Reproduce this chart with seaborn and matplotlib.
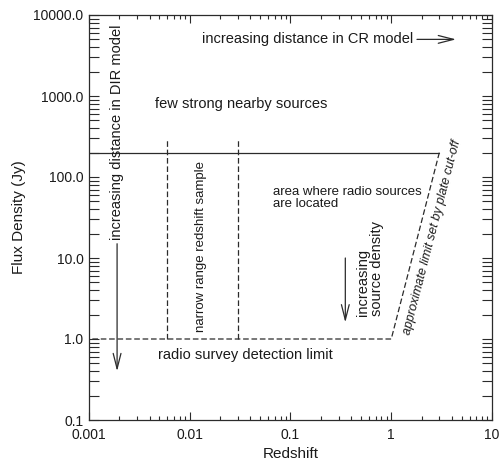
import math
import matplotlib
matplotlib.use("Agg")
import matplotlib.pyplot as plt
from matplotlib.ticker import LogLocator, FormatStrFormatter, FuncFormatter, NullFormatter
import numpy as np
import pandas as pd
import seaborn as sns

# Boundaries of the flux-density / redshift region
upper_limit_z = [0.001, 3.0]
upper_limit_flux = [200.0, 200.0]

cutoff_z = [3.0, 1.0, 0.001]
cutoff_flux = [200.0, 1.0, 1.0]

sample_z = [0.006, 0.03]
sample_flux = [1.0, 300.0]

x_ticks = [0.001, 0.01, 0.1, 1, 10]
y_ticks = [0.1, 1.0, 10.0, 100.0, 1000.0, 10000.0]

sns.set_theme(style="ticks")
plt.rcParams["font.family"] = ["Liberation Sans", "DejaVu Sans"]

ink = "#2b2b2b"
lw = 0.9
dash = (0, (4.5, 2.2))

fig = plt.figure(figsize=(5.02, 4.66), dpi=100)
ax = fig.add_axes([89 / 502, 1 - 420 / 466, 403 / 502, 405 / 466])
ax.set_xscale("log")
ax.set_yscale("log")
ax.set_xlim(0.001, 10)
ax.set_ylim(0.1, 10000)

line_kw = dict(ax=ax, color=ink, lw=lw, sort=False, estimator=None,
               errorbar=None)

solid = pd.DataFrame({"z": upper_limit_z, "flux": upper_limit_flux})
sns.lineplot(data=solid, x="z", y="flux", **line_kw)

cut = pd.DataFrame({"z": cutoff_z, "flux": cutoff_flux})
sns.lineplot(data=cut, x="z", y="flux", linestyle=dash, **line_kw)

for z in sample_z:
    seg = pd.DataFrame({"z": [z, z], "flux": sample_flux})
    sns.lineplot(data=seg, x="z", y="flux", linestyle=dash, **line_kw)

# Arrows
arrow_kw = dict(arrowstyle="->,head_length=1.1,head_width=0.28", color=ink,
                lw=lw, mutation_scale=10, shrinkA=0, shrinkB=0)
ax.annotate("", xy=(0.0019, 0.4), xytext=(0.0019, 15), arrowprops=arrow_kw)
ax.annotate("", xy=(4.4, 5000), xytext=(1.8, 5000), arrowprops=arrow_kw)
ax.annotate("", xy=(0.35, 1.6), xytext=(0.35, 10), arrowprops=arrow_kw)

txt = "#1a1a1a"
ax.text(1.65, 5000, "increasing distance in CR model", ha="right", va="center",
        fontsize=10.5, color=txt)
ax.text(0.0045, 800, "few strong nearby sources", ha="left", va="center",
        fontsize=10.5, color=txt)
ax.text(0.0019, 354, "increasing distance in DIR model", rotation=90,
        ha="center", va="center", fontsize=10.5, color=txt)
ax.text(0.0129, 14, "narrow range redshift sample", rotation=90,
        ha="center", va="center", fontsize=9.5, color=txt)
ax.text(0.067, 55, "area where radio sources\nare located", ha="left",
        va="center", multialignment="left", linespacing=1.1, fontsize=9.5,
        color=txt)
ax.text(0.62, 1.95, "increasing\nsource density", rotation=90, ha="center",
        va="bottom", multialignment="left", linespacing=1.0, fontsize=10.5,
        color=txt)
ax.text(0.036, 0.63, "radio survey detection limit", ha="center", va="center",
        fontsize=10.5, color=txt)

# Italic label running along the plate cut-off line
p1 = ax.transData.transform((cutoff_z[1], cutoff_flux[1]))
p2 = ax.transData.transform((cutoff_z[0], cutoff_flux[0]))
angle = math.degrees(math.atan2(p2[1] - p1[1], p2[0] - p1[0]))
ax.text(2.53, 18, "approximate limit set by plate cut-off", rotation=angle,
        rotation_mode="anchor", ha="center", va="center", fontsize=9,
        style="italic", color=txt)

# Axes styling
for s in ax.spines.values():
    s.set_color(ink)
    s.set_linewidth(0.9)

ax.xaxis.set_minor_locator(LogLocator(base=10, subs=np.arange(2, 10), numticks=20))
ax.yaxis.set_minor_locator(LogLocator(base=10, subs=np.arange(2, 10), numticks=20))
ax.set_xticks(x_ticks)
ax.set_yticks(y_ticks)
ax.xaxis.set_major_formatter(FuncFormatter(lambda v, p: f"{v:g}"))
ax.yaxis.set_major_formatter(FormatStrFormatter("%.1f"))
ax.xaxis.set_minor_formatter(NullFormatter())
ax.yaxis.set_minor_formatter(NullFormatter())

ax.tick_params(axis="both", which="both", direction="in", top=True, right=True,
               color=ink, width=0.8, labelsize=10, labelcolor=txt)
ax.tick_params(axis="x", which="major", length=6, pad=6)
ax.tick_params(axis="x", which="minor", length=3)
ax.tick_params(axis="y", which="major", length=7, pad=4)
ax.tick_params(axis="y", which="minor", length=7)

ax.set_xlabel("Redshift", fontsize=11, color=txt, labelpad=3)
ax.set_ylabel("Flux Density (Jy)", fontsize=11, color=txt, labelpad=5)
ax.grid(False)

fig.savefig("out.png", dpi=100)
